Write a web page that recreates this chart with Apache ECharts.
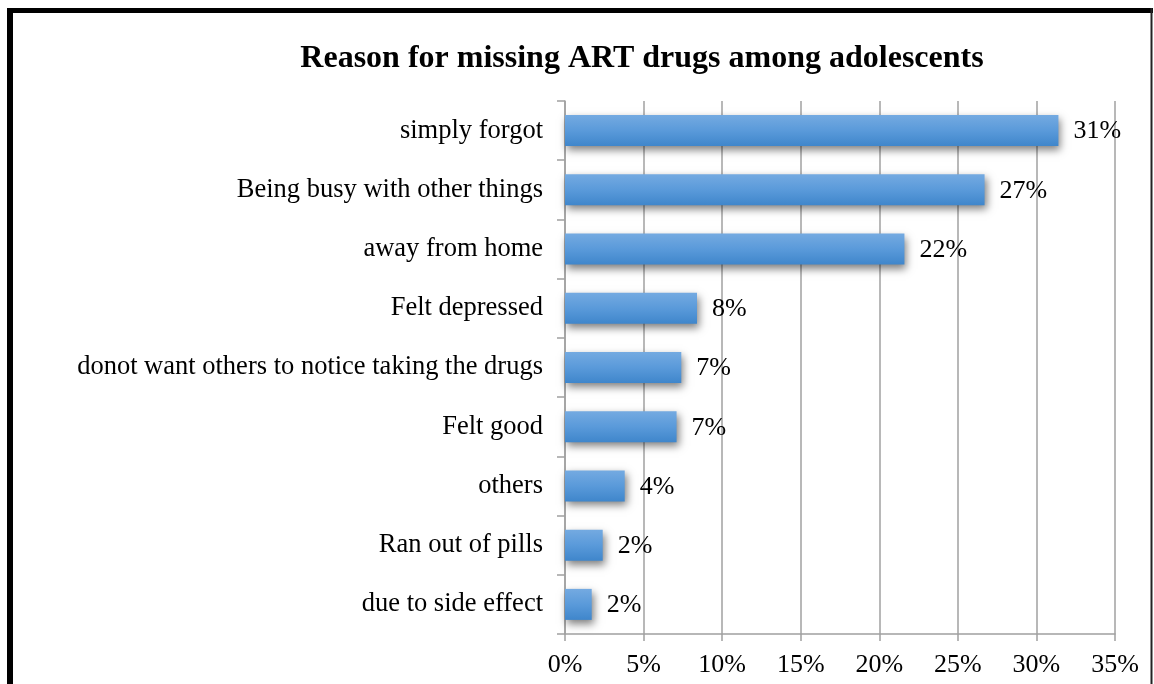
<!DOCTYPE html>
<html>
<head>
<meta charset="utf-8">
<script src="https://cdn.jsdelivr.net/npm/echarts@6/dist/echarts.min.js"></script>
<style>html,body{margin:0;padding:0;background:#fff;}#c{width:1154px;height:684px;}</style>
</head>
<body>
<div id="c"></div>
<script>
const categories = ['simply forgot','Being busy with other things','away from home','Felt depressed','donot want others to notice taking the drugs','Felt good','others','Ran out of pills','due to side effect'];
const values = [31.4, 26.7, 21.6, 8.4, 7.4, 7.1, 3.8, 2.4, 1.7];
const xTicks = [0, 5, 10, 15, 20, 25, 30, 35];
const titleText = 'Reason for missing ART drugs among adolescents';

const serif = '"Liberation Serif", "Times New Roman", serif';
const chart = echarts.init(document.getElementById('c'), null, {renderer: 'canvas'});
chart.setOption({
  animation: false,
  backgroundColor: '#fff',
  title: {
    text: titleText, left: 637, top: 38, textAlign: 'center',
    textStyle: {fontFamily: serif, fontWeight: 'bold', fontSize: 32, color: '#000'}
  },
  graphic: [
    {type: 'line', shape: {x1: 7, y1: 10.5, x2: 1153, y2: 10.5}, style: {stroke: '#000', lineWidth: 5}},
    {type: 'line', shape: {x1: 10, y1: 8, x2: 10, y2: 684}, style: {stroke: '#000', lineWidth: 6}},
    {type: 'line', shape: {x1: 1151.5, y1: 8, x2: 1151.5, y2: 684}, style: {stroke: '#222', lineWidth: 2}}
  ],
  grid: {left: 565, right: 39, top: 101, bottom: 50, containLabel: false},
  xAxis: {
    type: 'value', min: 0, max: 35, interval: 5,
    axisLine: {show: true, lineStyle: {color: '#a0a0a0', width: 1.5}},
    axisTick: {show: true, length: 7, lineStyle: {color: '#a0a0a0', width: 1.5}},
    splitLine: {show: true, lineStyle: {color: '#a0a0a0', width: 1.5}},
    axisLabel: {
      margin: 18, fontFamily: serif, fontSize: 26, color: '#000',
      formatter: v => xTicks.includes(v) ? v + '%' : ''
    }
  },
  yAxis: {
    type: 'category', data: categories, inverse: true,
    axisLine: {show: true, lineStyle: {color: '#a0a0a0', width: 1.5}},
    axisTick: {show: true, length: 8, alignWithLabel: false, lineStyle: {color: '#a0a0a0', width: 1.5}},
    axisLabel: {margin: 22, fontFamily: serif, fontSize: 26.5, color: '#000'}
  },
  series: [{
    type: 'bar', data: values, barWidth: 31,
    itemStyle: {
      color: new echarts.graphic.LinearGradient(0, 0, 0, 1, [
        {offset: 0, color: '#74aae1'},
        {offset: 0.5, color: '#5a9ada'},
        {offset: 1, color: '#3f86cb'}
      ]),
      shadowColor: 'rgba(0,0,0,0.5)', shadowBlur: 8, shadowOffsetX: 2, shadowOffsetY: 4
    },
    label: {
      show: true, position: 'right', distance: 15, offset: [0, 1],
      fontFamily: serif, fontSize: 26, color: '#000',
      formatter: p => Math.round(p.value) + '%'
    }
  }]
});
</script>
</body>
</html>
